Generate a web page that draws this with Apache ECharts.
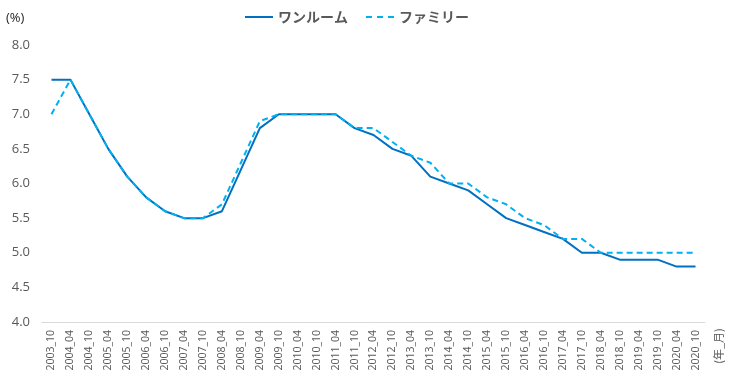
<!DOCTYPE html>
<html><head><meta charset="utf-8">
<script src="https://cdn.jsdelivr.net/npm/echarts@6/dist/echarts.min.js"></script>
<style>html,body{margin:0;padding:0;background:#fff}#c{width:730px;height:384px}</style>
</head><body><div id="c"></div>
<script>
const categories = ["2003_10","2004_04","2004_10","2005_04","2005_10","2006_04","2006_10","2007_04","2007_10","2008_04","2008_10","2009_04","2009_10","2010_04","2010_10","2011_04","2011_10","2012_04","2012_10","2013_04","2013_10","2014_04","2014_10","2015_04","2015_10","2016_04","2016_10","2017_04","2017_10","2018_04","2018_10","2019_04","2019_10","2020_04","2020_10"];
const oneRoom = [7.5,7.5,7.0,6.5,6.1,5.8,5.6,5.5,5.5,5.6,6.2,6.8,7.0,7.0,7.0,7.0,6.8,6.7,6.5,6.4,6.1,6.0,5.9,5.7,5.5,5.4,5.3,5.2,5.0,5.0,4.9,4.9,4.9,4.8,4.8];
const family = [7.0,7.5,7.0,6.5,6.1,5.8,5.6,5.5,5.5,5.7,6.3,6.9,7.0,7.0,7.0,7.0,6.8,6.8,6.6,6.4,6.3,6.0,6.0,5.8,5.7,5.5,5.4,5.2,5.2,5.0,5.0,5.0,5.0,5.0,5.0];
const seriesNames = ["ワンルーム","ファミリー"];
const yUnit = "(%)";
const xUnit = "(年_月)";

const font = '"Open Sans","Noto Sans CJK JP",sans-serif';
const chart = echarts.init(document.getElementById('c'));
chart.setOption({
  animation: false,
  textStyle: { fontFamily: font },
  legend: {
    top: 5, left: 240, itemWidth: 28, itemHeight: 10, itemGap: 18,
    textStyle: { color: '#595959', fontSize: 14, fontWeight: 'bold', fontFamily: '"Noto Sans CJK JP",sans-serif' },
    data: [{name: seriesNames[0], icon: 'path://M0,4L28,4L28,6L0,6Z'}, {name: seriesNames[1], icon: 'path://M0,4L6,4L6,6L0,6ZM11,4L17,4L17,6L11,6ZM22,4L28,4L28,6L22,6Z'}]
  },
  grid: { left: 42, right: 25, top: 45, bottom: 62 },
  xAxis: {
    type: 'category', data: categories, boundaryGap: true,
    axisLine: { lineStyle: { color: '#D9D9D9', width: 1 } },
    axisTick: { show: false },
    axisLabel: { rotate: 90, interval: 0, color: '#595959', fontSize: 10.5, margin: 8, fontFamily: font }
  },
  yAxis: {
    type: 'value', min: 4, max: 8, interval: 0.5,
    splitLine: { show: false }, axisLine: { show: false }, axisTick: { show: false },
    axisLabel: { color: '#595959', fontSize: 13, margin: 12, formatter: v => v.toFixed(1), fontFamily: font }
  },
  graphic: [
    { type: 'text', left: 6, top: 12, style: { text: yUnit, fill: '#262626', font: '13px "Open Sans",sans-serif' } },
    { type: 'text', x: 719, y: 346, rotation: Math.PI/2, style: { text: xUnit, fill: '#595959', font: '11px "Noto Sans CJK JP",sans-serif', align: 'center', verticalAlign: 'middle' } }
  ],
  series: [
    { name: seriesNames[0], type: 'line', data: oneRoom, symbol: 'none', z: 2,
      lineStyle: { color: '#0070C0', width: 2 }, itemStyle: { color: '#0070C0' } },
    { name: seriesNames[1], type: 'line', data: family, symbol: 'none', z: 3,
      lineStyle: { color: '#00B0F0', width: 2, type: [6, 4] }, itemStyle: { color: '#00B0F0' } }
  ]
});
</script></body></html>
